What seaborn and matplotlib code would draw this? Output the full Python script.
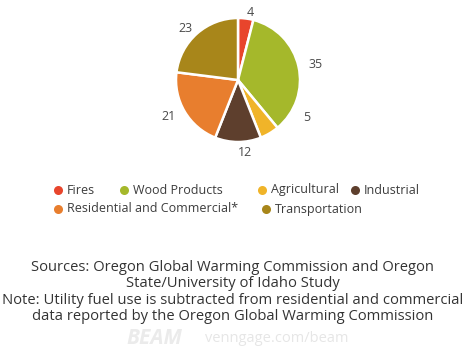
import numpy as np
import matplotlib
matplotlib.use("Agg")
import matplotlib.pyplot as plt
import seaborn as sns

# Emission sources and their shares (percent)
categories = ["Fires", "Wood Products", "Agricultural", "Industrial",
              "Residential and Commercial*", "Transportation"]
shares = [4, 35, 5, 12, 21, 23]
colors = ["#e8452c", "#a5b82b", "#f0b429", "#5e3f2d", "#e87e2e", "#a8861a"]

sources_note = ("Sources: Oregon Global Warming Commission and Oregon\n"
                "State/University of Idaho Study\n"
                "Note: Utility fuel use is subtracted from residential and commercial\n"
                "data reported by the Oregon Global Warming Commission")

sns.set_theme(style="white")
plt.rcParams["font.family"] = ["Open Sans", "DejaVu Sans"]

W, H = 465, 348
fig = plt.figure(figsize=(W / 100, H / 100), dpi=100)
fig.patch.set_facecolor("white")

# Pie axes: centre (238, 80) px, radius 62 px, limits +-1.25
cx, cy, r = 238, 80, 62
half = 1.25 * r
ax = fig.add_axes([(cx - half) / W, (H - cy - half) / H, 2 * half / W, 2 * half / H])
wedges, texts = ax.pie(
    shares, colors=colors, labels=[str(v) for v in shares],
    startangle=90, counterclock=False, labeldistance=1.17,
    wedgeprops=dict(edgecolor="white", linewidth=1.8),
    textprops=dict(color="#4a4a4a", fontsize=9),
)
# pull the top labels a little closer to the rim
for i in (0, 5):
    x, y = texts[i].get_position()
    texts[i].set_position((x * 0.94, y * 0.94))
# nudge the small "Agricultural" label away from the "12" label
ang = np.deg2rad(-30)
texts[2].set_position((1.22 * np.cos(ang), 1.22 * np.sin(ang)))
texts[2].set_ha("left")
ax.set_xlim(-1.25, 1.25)
ax.set_ylim(-1.25, 1.25)
ax.set_aspect("equal")
ax.axis("off")

# Overlay in pixel coordinates for the legend and footnotes
ov = fig.add_axes([0, 0, 1, 1])
ov.set_xlim(0, W)
ov.set_ylim(H, 0)
ov.axis("off")

legend_pos = [(58, 190), (124, 190), (262, 190), (355, 190), (58, 209), (266, 209)]
for (lx, ly), name, col in zip(legend_pos, categories, colors):
    ov.plot([lx], [ly], "o", color=col, markersize=6.5, markeredgewidth=0)
    ov.text(lx + 9, ly, name, va="center", ha="left", fontsize=9, color="#3c3c3c")

ov.text(232.5, 292, sources_note, ha="center", va="center", fontsize=10.6,
        color="#333333", linespacing=1.14)

ov.text(154, 338, "BEAM", ha="center", va="center", fontsize=15,
        fontweight="bold", fontstyle="italic", color="#ebebeb")
ov.text(277, 338, "venngage.com/beam", ha="center", va="center", fontsize=10.5,
        color="#e6e6e6")

fig.savefig("out.png", dpi=100, facecolor="white")
